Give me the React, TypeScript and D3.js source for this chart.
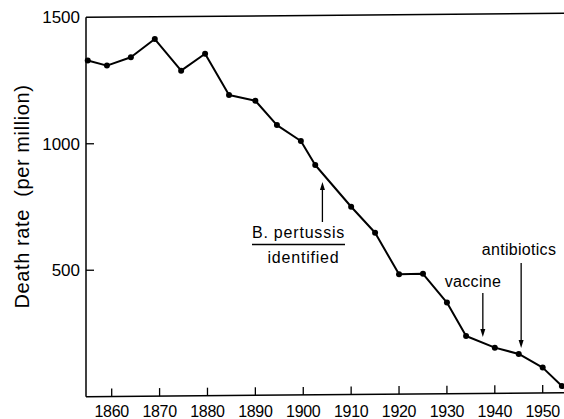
import React from "react";
import * as d3 from "d3";

const years = [1855, 1859, 1864, 1869, 1874.5, 1879.5, 1884.5, 1890, 1894.5, 1899.5, 1902.5, 1910, 1915, 1920, 1925, 1930, 1934, 1940, 1945, 1950, 1954];
const deathRate = [1329, 1309, 1342, 1414, 1289, 1356, 1193, 1170, 1074, 1011, 916, 751, 648, 484, 486, 372, 240, 194, 169, 115, 42];
const xTicks = [1860, 1870, 1880, 1890, 1900, 1910, 1920, 1930, 1940, 1950];
const yTicks = [500, 1000, 1500];
const yTitle = "Death rate  (per million)";

const W = 564;
const H = 419;
const FONT = "'Liberation Sans', Arial, sans-serif";

export default function App() {
  const x = d3.scaleLinear().domain([1860, 1950]).range([111.7, 542.7]);
  const y = d3.scaleLinear().domain([0, 1500]).range([396.7, 17.3]);
  const left = 86;
  const right = W;
  // slight scan skew of the frame lines
  const skew = (px: number) => -(px - left) * (4 / (right - left));
  const bottomY = (px: number) => y(0) + skew(px);
  const topY = (px: number) => y(1500) + skew(px);

  const data = years.map((yr, i) => ({ yr, v: deathRate[i] }));
  const line = d3
    .line<{ yr: number; v: number }>()
    .x((d) => x(d.yr))
    .y((d) => y(d.v));

  const arrow = (yr: number, y0: number, y1: number, key: string) => {
    const ax = x(yr);
    const dir = y1 > y0 ? 1 : -1;
    return (
      <g key={key}>
        <line x1={ax} x2={ax} y1={y0} y2={y1 - dir * 4} stroke="#000" strokeWidth={1.3} />
        <path
          d={`M${ax},${y1} L${ax - 2.5},${y1 - dir * 8} L${ax + 2.5},${y1 - dir * 8} Z`}
          fill="#000"
        />
      </g>
    );
  };

  return (
    <svg
      width={W}
      height={H}
      style={{ position: "absolute", left: 0, top: 0, background: "#fff" }}
      fontFamily={FONT}
    >
      <rect width={W} height={H} fill="#fff" />
      {/* frame */}
      <line x1={left} x2={left} y1={topY(left)} y2={bottomY(left)} stroke="#000" strokeWidth={1.5} />
      <line x1={left} x2={right} y1={topY(left)} y2={topY(right)} stroke="#000" strokeWidth={1.5} />
      <line x1={left} x2={right} y1={bottomY(left)} y2={bottomY(right)} stroke="#000" strokeWidth={1.5} />

      {/* x ticks */}
      {xTicks.map((t) => {
        const px = x(t);
        const by = bottomY(px);
        return (
          <g key={t}>
            <line x1={px} x2={px} y1={by} y2={by - 8} stroke="#000" strokeWidth={1.3} />
            <text x={px} y={417} textAnchor="middle" fontSize={16} letterSpacing={-0.3}>
              {t}
            </text>
          </g>
        );
      })}

      {/* y ticks */}
      {yTicks.map((t) => (
        <g key={t}>
          {t < 1500 && (
            <line x1={left} x2={left + 8} y1={y(t)} y2={y(t)} stroke="#000" strokeWidth={1.3} />
          )}
          <text x={80} y={y(t) + 6} textAnchor="end" fontSize={17} letterSpacing={0}>
            {t}
          </text>
        </g>
      ))}

      {/* y title */}
      <text
        transform="translate(29,196.5) rotate(-90)"
        textAnchor="middle"
        fontSize={20}
        letterSpacing={0.6}
        style={{ whiteSpace: "pre" }}
      >
        {yTitle}
      </text>

      {/* series */}
      <path d={line(data) || ""} fill="none" stroke="#000" strokeWidth={2} strokeLinejoin="round" />
      {data.map((d, i) => (
        <circle key={i} cx={x(d.yr)} cy={y(d.v)} r={3} fill="#000" />
      ))}

      {/* annotations */}
      {arrow(1904, 222, 182, "a1")}
      <text x={298.5} y={238} textAnchor="middle" fontSize={16} letterSpacing={0.8}>
        B. pertussis
      </text>
      <line x1={252} x2={345} y1={244.5} y2={244.5} stroke="#000" strokeWidth={1.3} />
      <text x={303.5} y={263} textAnchor="middle" fontSize={16} letterSpacing={0.8}>
        identified
      </text>

      {arrow(1937.5, 293, 337, "a2")}
      <text x={473} y={287} textAnchor="middle" fontSize={16} letterSpacing={0.3}>
        vaccine
      </text>

      {arrow(1945.5, 263, 348, "a3")}
      <text x={519} y={255} textAnchor="middle" fontSize={16} letterSpacing={0.3}>
        antibiotics
      </text>
    </svg>
  );
}
